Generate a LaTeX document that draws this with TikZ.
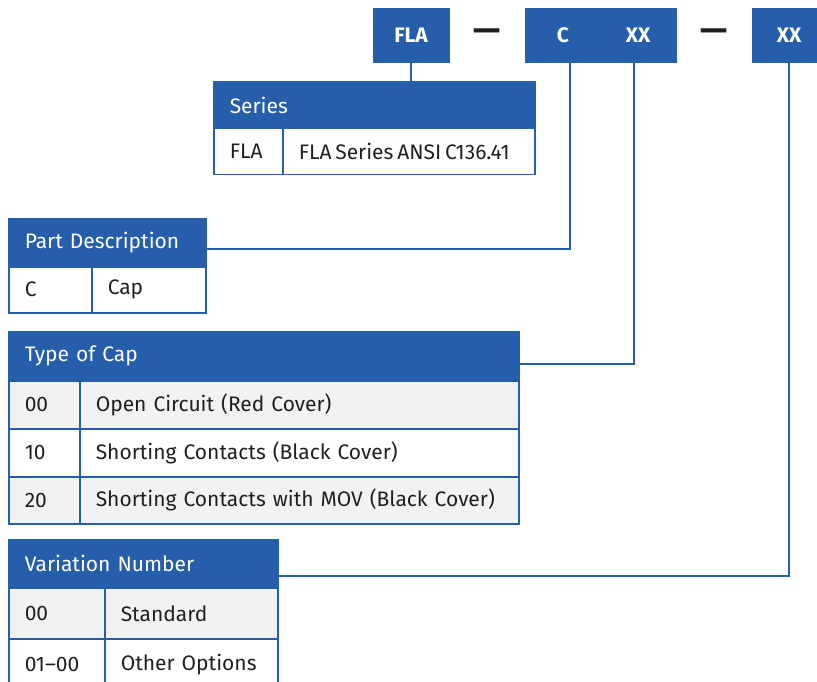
\documentclass[tikz,border=0pt]{standalone}
\usepackage{fontspec}
\setmainfont{Fira Sans}
\usetikzlibrary{positioning}
\definecolor{capblue}{RGB}{38,94,171}
\definecolor{cellgray}{RGB}{241,242,244}
\definecolor{ink}{RGB}{35,31,32}
\newcommand{\cellfont}{\fontsize{21}{23}\selectfont}

\begin{document}
\begin{tikzpicture}[x=1pt,y=-1pt,
    codebox/.style={fill=capblue, draw=capblue, minimum height=54pt, inner sep=0pt,
      text=white, font=\fontsize{21}{21}\selectfont\bfseries},
    codetext/.style={text=white, font=\fontsize{21}{21}\selectfont\bfseries},
    sepdash/.style={text=ink, font=\fontsize{34}{34}\selectfont\bfseries},
    hdr/.style={fill=capblue, draw=capblue, line width=1.5pt, anchor=north west,
      inner xsep=16pt, inner ysep=0pt, align=left, text=white, font=\cellfont},
    cell/.style={draw=capblue, line width=1.5pt, fill=white, anchor=north west,
      inner xsep=16pt, inner ysep=0pt, align=left, text=ink, font=\cellfont},
    shade/.style={fill=cellgray},
    wire/.style={draw=capblue, line width=2pt}]
  \useasboundingbox (0,0) rectangle (817,682);

  % part number
  \node[codebox, minimum width=76pt] (fla) at (411,35) {FLA};
  \node[sepdash] (dashone) at (487,35) {—};
  \node[codebox, minimum width=151pt] (capbox) at (600.5,35) {};
  \node[codetext] (capc) at (563,35) {C};
  \node[codetext] (capxx) at (638,35) {XX};
  \node[sepdash] (dashtwo) at (714,35) {—};
  \node[codebox, minimum width=74pt] (varxx) at (789,35) {XX};

  % series
  \node[hdr, minimum height=47pt, text width=289pt] (series) at (213,81) {Series};
  \node[cell, minimum height=46pt, text width=37pt] (serA) at (213,128) {FLA};
  \node[cell, minimum height=46pt, text width=220pt] (serB) at (282,128)
    {\mbox{FLA\hspace{0.18em}Series\hspace{0.18em}ANSI\hspace{0.18em}C136.41}};

  % part description
  \node[hdr, minimum height=48pt, text width=165pt] (partdesc) at (8,218) {Part Description};
  \node[cell, minimum height=46pt, text width=51pt] (pdA) at (8,266) {C};
  \node[cell, minimum height=46pt, text width=82pt] (pdB) at (91,266) {Cap};

  % type of cap
  \node[hdr, minimum height=49pt, text width=478pt] (captype) at (8,331) {Type of Cap};
  \node[cell, shade, minimum height=48pt, text width=39pt] (ctA) at (8,380) {00};
  \node[cell, shade, minimum height=48pt, text width=407pt] (ctB) at (79,380) {Open Circuit (Red Cover)};
  \node[cell, minimum height=48pt, text width=39pt] (ctC) at (8,428) {10};
  \node[cell, minimum height=48pt, text width=407pt] (ctD) at (79,428) {Shorting Contacts (Black Cover)};
  \node[cell, shade, minimum height=47pt, text width=39pt] (ctE) at (8,476) {20};
  \node[cell, shade, minimum height=47pt, text width=407pt] (ctF) at (79,476) {Shorting Contacts with MOV (Black Cover)};

  % variation number
  \node[hdr, minimum height=48pt, text width=237pt] (varnum) at (8,539) {Variation Number};
  \node[cell, shade, minimum height=51pt, text width=64pt] (vnA) at (8,587) {00};
  \node[cell, shade, minimum height=51pt, text width=141pt] (vnB) at (104,587) {Standard};
  \node[cell, minimum height=51pt, text width=64pt] (vnC) at (8,638) {01–00};
  \node[cell, minimum height=51pt, text width=141pt] (vnD) at (104,638) {Other Options};

  % connectors
  \coordinate (cdrop) at (570,62);
  \coordinate (xxdrop) at (634,62);
  \draw[wire] (fla.south) -- (fla.south |- series.north);
  \draw[wire] (cdrop) |- ([yshift=-6pt]partdesc.east);
  \draw[wire] (xxdrop) |- ([yshift=-8pt]captype.east);
  \draw[wire] (varxx.south) |- ([yshift=-12pt]varnum.east);
\end{tikzpicture}
\end{document}
